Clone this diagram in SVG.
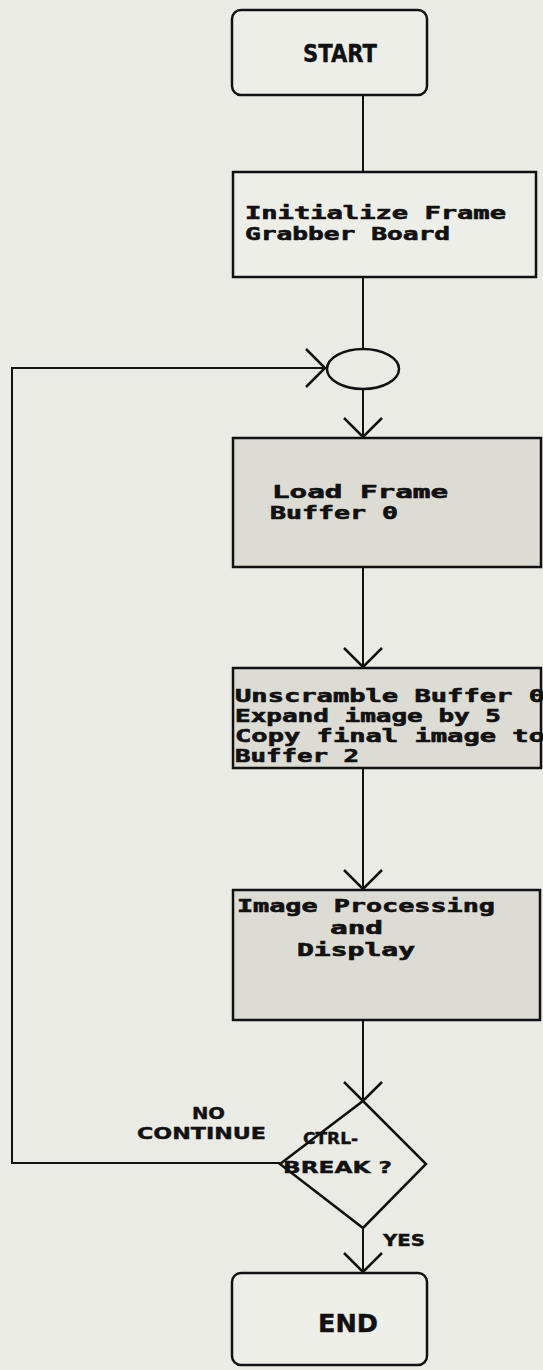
<svg xmlns="http://www.w3.org/2000/svg" width="543" height="1370" viewBox="0 0 543 1370">
<style>
.bg{fill:#ebebe5}
.box{fill:#eeeee9;stroke:#111;stroke-width:2.5}
.gbox{fill:#dcdcd5;stroke:#111;stroke-width:2.5}
.ln{fill:none;stroke:#111;stroke-width:2}
.t{font-family:"DejaVu Sans Mono","Liberation Mono",monospace;font-weight:bold;font-size:17px;fill:#111;stroke:#111;stroke-width:0.6}
.u{font-family:"DejaVu Sans","Liberation Sans",sans-serif;font-weight:bold;fill:#111;stroke:#111;stroke-width:0.4}
</style>
<defs>
<marker id="arr" markerUnits="userSpaceOnUse" viewBox="0 0 22 42" refX="20" refY="21" markerWidth="22" markerHeight="42" orient="auto">
<path d="M1,2 L20,21 L1,40" fill="none" stroke="#111" stroke-width="2.5"/>
</marker>
</defs>
<rect class="bg" x="0" y="0" width="543" height="1370"/>
<g id="connectors">
<line class="ln" x1="363" y1="95" x2="363" y2="172"/>
<line class="ln" x1="363" y1="277" x2="363" y2="349"/>
<line class="ln" x1="363" y1="390" x2="363" y2="437" marker-end="url(#arr)"/>
<line class="ln" x1="363" y1="567" x2="363" y2="667" marker-end="url(#arr)"/>
<line class="ln" x1="363" y1="768" x2="363" y2="889" marker-end="url(#arr)"/>
<line class="ln" x1="363" y1="1020" x2="363" y2="1101" marker-end="url(#arr)"/>
<line class="ln" x1="363" y1="1228" x2="363" y2="1272" marker-end="url(#arr)"/>
<path class="ln" d="M280,1163 L12,1163 L12,368 L325,368" marker-end="url(#arr)"/>
<text class="u" x="192" y="1119" font-size="15" textLength="33" lengthAdjust="spacingAndGlyphs">NO</text>
<text class="u" x="137" y="1139" font-size="15" textLength="129" lengthAdjust="spacingAndGlyphs">CONTINUE</text>
<text class="u" x="383" y="1246" font-size="15" textLength="42" lengthAdjust="spacingAndGlyphs">YES</text>
</g>
<g id="start">
<rect class="box" x="232" y="10" width="195" height="85" rx="9"/>
<text class="u" x="303" y="62" font-size="24" textLength="74" lengthAdjust="spacingAndGlyphs">START</text>
</g>
<g id="init">
<rect class="box" x="233" y="172" width="303" height="105"/>
<text class="t" x="245" y="219" textLength="261" lengthAdjust="spacingAndGlyphs">Initialize Frame</text>
<text class="t" x="245" y="240" textLength="205" lengthAdjust="spacingAndGlyphs">Grabber Board</text>
</g>
<g id="merge">
<ellipse fill="none" stroke="#111" stroke-width="2.5" cx="363" cy="369" rx="36" ry="20"/>
</g>
<g id="load">
<rect class="gbox" x="233" y="438" width="308" height="129"/>
<text class="t" x="272" y="498" textLength="176" lengthAdjust="spacingAndGlyphs">Load Frame</text>
<text class="t" x="270" y="519" textLength="128" lengthAdjust="spacingAndGlyphs">Buffer 0</text>
</g>
<g id="unscramble">
<rect class="gbox" x="233" y="668" width="308" height="100"/>
<text class="t" x="235" y="702" textLength="310" lengthAdjust="spacingAndGlyphs">Unscramble Buffer 0</text>
<text class="t" x="235" y="722" textLength="266" lengthAdjust="spacingAndGlyphs">Expand image by 5</text>
<text class="t" x="235" y="742" textLength="310" lengthAdjust="spacingAndGlyphs">Copy final image to</text>
<text class="t" x="235" y="762" textLength="124" lengthAdjust="spacingAndGlyphs">Buffer 2</text>
</g>
<g id="processing">
<rect class="gbox" x="233" y="890" width="307" height="130"/>
<text class="t" x="237" y="912" textLength="258" lengthAdjust="spacingAndGlyphs">Image Processing</text>
<text class="t" x="330" y="934" textLength="53" lengthAdjust="spacingAndGlyphs">and</text>
<text class="t" x="297" y="956" textLength="118" lengthAdjust="spacingAndGlyphs">Display</text>
</g>
<g id="decision">
<path d="M363,1101 L426,1164 L363,1228 L280,1164 Z" fill="none" stroke="#111" stroke-width="2.5"/>
<text class="u" x="303" y="1144" font-size="16" textLength="55" lengthAdjust="spacingAndGlyphs">CTRL-</text>
<text class="u" x="283" y="1173" font-size="16" textLength="109" lengthAdjust="spacingAndGlyphs">BREAK ?</text>
</g>
<g id="end">
<rect class="box" x="232" y="1273" width="195" height="92" rx="9"/>
<text class="u" x="318" y="1332" font-size="24" textLength="60" lengthAdjust="spacingAndGlyphs">END</text>
</g>
</svg>
